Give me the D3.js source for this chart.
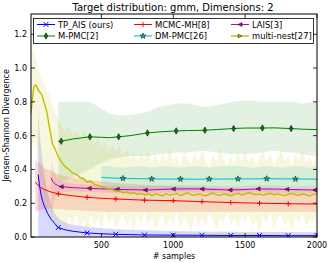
<!DOCTYPE html>
<html>
<head>
<meta charset="utf-8">
<script src="https://cdn.jsdelivr.net/npm/d3@7"></script>
<style>
  body { margin: 0; background: #fff; }
  svg text { font-family: "DejaVu Sans", sans-serif; fill: #000; }
</style>
</head>
<body>
<script>
// axis ticks
var sampleTicks = [500, 1000, 1500, 2000];
var jsdTicks = [0, 0.2, 0.4, 0.6, 0.8, 1.0, 1.2];

// TP_AIS (ours)
var tpSamples = [60, 70, 80, 90, 100, 125, 150, 175, 200, 250, 300, 400, 500, 600, 800, 1000, 1200, 1400, 1600, 1800, 2000];
var tpMean = [0.37, 0.30, 0.25, 0.215, 0.19, 0.14, 0.105, 0.08, 0.056, 0.042, 0.034, 0.024, 0.019, 0.016, 0.012, 0.011, 0.010, 0.009, 0.009, 0.008, 0.008];
var tpHi = [0.75, 0.62, 0.52, 0.45, 0.38, 0.27, 0.19, 0.14, 0.11, 0.085, 0.072, 0.06, 0.052, 0.046, 0.04, 0.036, 0.033, 0.031, 0.03, 0.029, 0.028];
var tpLo = [0, 0, 0, 0, 0, 0, 0, 0, 0, 0, 0, 0, 0, 0, 0, 0, 0, 0, 0, 0, 0];
var tpMarks = [200, 400, 600, 800, 1000, 1200, 1400, 1600, 1800, 2000];

// MCMC-MH[8]
var mhSamples = [40, 60, 80, 100, 150, 200, 300, 400, 500, 600, 800, 1000, 1200, 1400, 1600, 1800, 2000];
var mhMean = [0.325, 0.305, 0.292, 0.282, 0.266, 0.255, 0.244, 0.235, 0.229, 0.225, 0.218, 0.215, 0.209, 0.204, 0.200, 0.197, 0.195];
var mhHi = [0.46, 0.44, 0.43, 0.41, 0.39, 0.37, 0.35, 0.34, 0.33, 0.32, 0.31, 0.30, 0.295, 0.29, 0.285, 0.28, 0.28];
var mhLo = [0.15, 0.155, 0.16, 0.165, 0.17, 0.165, 0.16, 0.155, 0.15, 0.15, 0.15, 0.15, 0.15, 0.15, 0.15, 0.15, 0.15];
var mhMarks = [200, 400, 600, 800, 1000, 1200, 1400, 1600, 1800];

// LAIS[3]
var laisSamples = [150, 160, 175, 200, 220, 300, 415, 500, 610, 700, 805, 900, 1000, 1100, 1200, 1300, 1395, 1500, 1590, 1700, 1790, 1900, 1985, 2000];
var laisMean = [0.35, 0.33, 0.315, 0.303, 0.298, 0.292, 0.288, 0.285, 0.282, 0.28, 0.278, 0.281, 0.284, 0.285, 0.284, 0.281, 0.278, 0.281, 0.285, 0.284, 0.282, 0.28, 0.278, 0.278];
var laisHi = [0.46, 0.42, 0.38, 0.34, 0.33, 0.315, 0.31, 0.307, 0.304, 0.302, 0.30, 0.303, 0.306, 0.307, 0.306, 0.303, 0.30, 0.303, 0.307, 0.306, 0.304, 0.302, 0.30, 0.30];
var laisLo = [0.12, 0.18, 0.23, 0.26, 0.265, 0.269, 0.266, 0.263, 0.26, 0.258, 0.256, 0.259, 0.262, 0.263, 0.262, 0.259, 0.256, 0.259, 0.263, 0.262, 0.26, 0.258, 0.256, 0.256];
var laisMarks = [220, 415, 610, 805, 1000, 1200, 1395, 1590, 1790, 1985];

// M-PMC[2]
var pmcSamples = [200, 220, 300, 420, 500, 560, 620, 700, 820, 900, 1020, 1100, 1220, 1300, 1420, 1500, 1620, 1700, 1820, 1900, 2000];
var pmcMean = [0.565, 0.567, 0.58, 0.593, 0.59, 0.588, 0.593, 0.60, 0.616, 0.622, 0.628, 0.63, 0.632, 0.636, 0.642, 0.645, 0.645, 0.646, 0.642, 0.638, 0.636];
var pmcHi = [0.80, 0.80, 0.80, 0.80, 0.76, 0.73, 0.72, 0.72, 0.74, 0.77, 0.79, 0.79, 0.77, 0.78, 0.80, 0.81, 0.80, 0.80, 0.80, 0.79, 0.80];
var pmcLo = [0.32, 0.33, 0.35, 0.40, 0.44, 0.46, 0.47, 0.48, 0.48, 0.49, 0.50, 0.50, 0.51, 0.50, 0.49, 0.49, 0.50, 0.51, 0.50, 0.49, 0.48];
var pmcMarks = [220, 420, 620, 820, 1020, 1220, 1420, 1620, 1820];

// DM-PMC[26]
var dmSamples = [500, 550, 650, 750, 850, 950, 1050, 1150, 1250, 1350, 1450, 1550, 1650, 1750, 1850, 1950, 2000];
var dmMean = [0.353, 0.35, 0.347, 0.345, 0.344, 0.343, 0.343, 0.342, 0.343, 0.343, 0.344, 0.344, 0.345, 0.344, 0.343, 0.343, 0.342];
var dmHi = [0.42, 0.42, 0.41, 0.42, 0.41, 0.42, 0.41, 0.42, 0.41, 0.42, 0.42, 0.41, 0.42, 0.41, 0.42, 0.41, 0.42];
var dmLo = [0.28, 0.28, 0.27, 0.28, 0.27, 0.28, 0.27, 0.28, 0.27, 0.28, 0.27, 0.28, 0.27, 0.28, 0.27, 0.28, 0.27];
var dmMarks = [650, 850, 1050, 1250, 1450, 1650, 1850];

// multi-nest[27] (noisy)
var nestSamples = [10, 20, 30, 40, 50, 60, 70, 80, 90, 100, 120, 140, 160, 180, 200].concat(d3.range(225, 2001, 25));
var nestMean = [0.73, 0.82, 0.89, 0.90, 0.89, 0.87, 0.86, 0.85, 0.83, 0.80, 0.74, 0.64, 0.55, 0.515, 0.475,
  0.440, 0.415, 0.400, 0.378, 0.372, 0.352, 0.345, 0.326,
  0.330, 0.312, 0.305, 0.298, 0.292, 0.285, 0.280, 0.268,
  0.274, 0.262, 0.266, 0.258, 0.262, 0.252, 0.258, 0.249,
  0.256, 0.245, 0.254, 0.250, 0.243, 0.256, 0.248, 0.252,
  0.258, 0.246, 0.253, 0.262, 0.250, 0.247, 0.256, 0.249,
  0.244, 0.253, 0.260, 0.251, 0.246, 0.255, 0.250, 0.244,
  0.252, 0.258, 0.249, 0.254, 0.262, 0.256, 0.250, 0.255,
  0.247, 0.253, 0.259, 0.250, 0.256, 0.249, 0.245, 0.253,
  0.258, 0.250, 0.247, 0.254, 0.249, 0.243, 0.252, 0.255];
var nestHi = [1.02, 1.12, 1.10, 1.06, 1.03, 0.99, 0.97, 0.94, 0.92, 0.90, 0.87, 0.84, 0.78, 0.73, 0.70,
  0.66, 0.62, 0.66, 0.60, 0.63, 0.58, 0.64, 0.59,
  0.61, 0.55, 0.59, 0.53, 0.57, 0.51, 0.55, 0.50,
  0.54, 0.48, 0.53, 0.47, 0.51, 0.45, 0.50, 0.46,
  0.52, 0.44, 0.49, 0.43, 0.50, 0.45, 0.53, 0.44,
  0.48, 0.42, 0.51, 0.46, 0.43, 0.50, 0.44, 0.52,
  0.45, 0.41, 0.49, 0.44, 0.53, 0.46, 0.42, 0.48,
  0.43, 0.50, 0.45, 0.52, 0.44, 0.48, 0.42, 0.47,
  0.51, 0.44, 0.49, 0.43, 0.46, 0.52, 0.45, 0.48,
  0.42, 0.49, 0.45, 0.51, 0.44, 0.47, 0.43, 0.50];
var nestLo = [0.45, 0.52, 0.58, 0.55, 0.50, 0.42, 0.36, 0.30, 0.25, 0.21, 0.15, 0.11, 0.08, 0.07, 0.05,
  0.09, 0.04, 0.12, 0.06, 0.14, 0.05, 0.10, 0.03,
  0.13, 0.07, 0.11, 0.04, 0.15, 0.08, 0.12, 0.05,
  0.10, 0.14, 0.06, 0.11, 0.03, 0.13, 0.08, 0.15,
  0.07, 0.12, 0.04, 0.10, 0.14, 0.06, 0.11, 0.08,
  0.15, 0.05, 0.12, 0.09, 0.03, 0.13, 0.07, 0.11,
  0.06, 0.14, 0.10, 0.04, 0.12, 0.08, 0.15, 0.07,
  0.11, 0.05, 0.13, 0.09, 0.14, 0.06, 0.10, 0.03,
  0.12, 0.08, 0.15, 0.05, 0.11, 0.13, 0.07, 0.10,
  0.04, 0.12, 0.09, 0.14, 0.06, 0.11, 0.08, 0.13];
var nestMarks = [];

(function() {
    var w = 332,
        h = 263,
        margin = {left: 31, right: 15, top: 14, bottom: 26};

    var svg = d3.select('body')
        .append('svg')
        .attr('width', w)
        .attr('height', h);

    var x = d3.scaleLinear()
        .domain([10, 2000])
        .range([margin.left, w - margin.right]);
    var y = d3.scaleLinear()
        .domain([0, 1.32])
        .range([h - margin.bottom, margin.top]);

    // series table, built from the arrays above
    var series = [
        {name: 'TP_AIS (ours)', color: '#0000ff', marker: 'x', xs: tpSamples, mean: tpMean, lo: tpLo, hi: tpHi, marks: tpMarks, lw: 1, alpha: 0.15},
        {name: 'MCMC-MH[8]', color: '#ff0000', marker: '+', xs: mhSamples, mean: mhMean, lo: mhLo, hi: mhHi, marks: mhMarks, lw: 1, alpha: 0.15},
        {name: 'LAIS[3]', color: '#bf00bf', marker: '<', xs: laisSamples, mean: laisMean, lo: laisLo, hi: laisHi, marks: laisMarks, lw: 1, alpha: 0.1},
        {name: 'M-PMC[2]', color: '#008000', marker: 'd', xs: pmcSamples, mean: pmcMean, lo: pmcLo, hi: pmcHi, marks: pmcMarks, lw: 1, alpha: 0.11},
        {name: 'DM-PMC[26]', color: '#00bfbf', marker: '*', xs: dmSamples, mean: dmMean, lo: dmLo, hi: dmHi, marks: dmMarks, lw: 1, alpha: 0.15},
        {name: 'multi-nest[27]', color: '#bfbf00', marker: '>', xs: nestSamples, mean: nestMean, lo: nestLo, hi: nestHi, marks: nestMarks, lw: 1.4, alpha: 0.13}
    ];
    series.forEach(function(s) {
        s.rows = s.xs.map(function(v, i) {
            return {x: v, m: s.mean[i], lo: s.lo[i], hi: s.hi[i]};
        });
    });

    svg.append('clipPath').attr('id', 'plotclip')
        .append('rect')
        .attr('x', margin.left).attr('y', margin.top)
        .attr('width', w - margin.left - margin.right)
        .attr('height', h - margin.top - margin.bottom);

    var plot = svg.append('g').attr('clip-path', 'url(#plotclip)');

    var band = d3.area()
        .x(function(d) { return x(d.x); })
        .y0(function(d) { return y(d.lo); })
        .y1(function(d) { return y(d.hi); });
    var line = d3.line()
        .x(function(d) { return x(d.x); })
        .y(function(d) { return y(d.m); });

    // shaded bands
    series.forEach(function(s) {
        plot.append('path')
            .attr('d', band(s.rows))
            .attr('fill', s.color)
            .attr('fill-opacity', s.alpha)
            .attr('stroke', 'none');
    });

    // marker drawing
    function markerPath(type, r) {
        var p = d3.path();
        if (type === 'x') {
            p.moveTo(-r, -r); p.lineTo(r, r); p.moveTo(-r, r); p.lineTo(r, -r);
        } else if (type === '+') {
            p.moveTo(-r, 0); p.lineTo(r, 0); p.moveTo(0, -r); p.lineTo(0, r);
        } else if (type === '<') {
            p.moveTo(-r, 0); p.lineTo(r, -r); p.lineTo(r, r); p.closePath();
        } else if (type === '>') {
            p.moveTo(r, 0); p.lineTo(-r, -r); p.lineTo(-r, r); p.closePath();
        } else if (type === 'd') {
            p.moveTo(0, -r * 1.3); p.lineTo(r * 0.75, 0); p.lineTo(0, r * 1.3); p.lineTo(-r * 0.75, 0); p.closePath();
        } else if (type === '*') {
            return d3.symbol().type(d3.symbolStar).size(r * r * 1.8)();
        }
        return p.toString();
    }
    function drawMarker(g, s, cx, cy, r) {
        var open = s.marker === 'x' || s.marker === '+';
        g.append('path')
            .attr('d', markerPath(s.marker, r))
            .attr('transform', 'translate(' + cx + ',' + cy + ')')
            .attr('fill', open ? 'none' : s.color)
            .attr('stroke', open ? s.color : '#000')
            .attr('stroke-width', open ? 1 : 0.5);
    }
    function markerSize(s) {
        if (s.marker === '>') return 1.8;
        if (s.marker === '<') return 2;
        if (s.marker === '*') return 2.4;
        return 2.5;
    }

    // mean lines and markers
    series.forEach(function(s) {
        plot.append('path')
            .attr('d', line(s.rows))
            .attr('fill', 'none')
            .attr('stroke', s.color)
            .attr('stroke-width', s.lw);
        s.rows.forEach(function(d) {
            if (s.marks.indexOf(d.x) >= 0) {
                drawMarker(plot, s, x(d.x), y(d.m), markerSize(s));
            }
        });
    });

    // frame and inward ticks on all four sides
    var x0 = margin.left, x1 = w - margin.right, y0 = h - margin.bottom, y1 = margin.top;
    var axes = svg.append('g').attr('stroke', '#000').attr('stroke-width', 0.8);
    sampleTicks.forEach(function(t) {
        axes.append('line').attr('x1', x(t)).attr('x2', x(t)).attr('y1', y0).attr('y2', y0 - 4);
        axes.append('line').attr('x1', x(t)).attr('x2', x(t)).attr('y1', y1).attr('y2', y1 + 4);
    });
    jsdTicks.forEach(function(t) {
        axes.append('line').attr('x1', x0).attr('x2', x0 + 4).attr('y1', y(t)).attr('y2', y(t));
        axes.append('line').attr('x1', x1).attr('x2', x1 - 4).attr('y1', y(t)).attr('y2', y(t));
    });
    svg.append('rect')
        .attr('x', x0).attr('y', y1)
        .attr('width', x1 - x0).attr('height', y0 - y1)
        .attr('fill', 'none').attr('stroke', '#000').attr('stroke-width', 1);

    sampleTicks.forEach(function(t) {
        svg.append('text')
            .attr('x', x(t)).attr('y', y0 + 11)
            .attr('text-anchor', 'middle')
            .style('font-size', '8px')
            .text(t);
    });
    jsdTicks.forEach(function(t) {
        svg.append('text')
            .attr('x', x0 - 4).attr('y', y(t) + 3)
            .attr('text-anchor', 'end')
            .style('font-size', '8px')
            .text(t.toFixed(1));
    });

    svg.append('text')
        .attr('x', (x0 + x1) / 2).attr('y', h - 4)
        .attr('text-anchor', 'middle')
        .style('font-size', '8px')
        .text('# samples');
    svg.append('text')
        .attr('transform', 'translate(9,' + ((y0 + y1) / 2) + ') rotate(-90)')
        .attr('text-anchor', 'middle')
        .style('font-size', '8px')
        .text('Jensen-Shannon Divergence');
    svg.append('text')
        .attr('x', (x0 + x1) / 2 - 1).attr('y', 11)
        .attr('text-anchor', 'middle')
        .style('font-size', '10px')
        .text('Target distribution: gmm, Dimensions: 2');

    // legend, 3 columns x 2 rows
    var legend = svg.append('g');
    legend.append('rect')
        .attr('x', 33.5).attr('y', 18.5)
        .attr('width', 280).attr('height', 25)
        .attr('fill', '#fff').attr('stroke', '#000').attr('stroke-width', 0.8);
    var colX = [37, 134, 231],
        rowY = [24.5, 36];
    series.forEach(function(s, i) {
        var cx = colX[i % 3], cy = rowY[Math.floor(i / 3)];
        legend.append('line')
            .attr('x1', cx).attr('x2', cx + 18)
            .attr('y1', cy).attr('y2', cy)
            .attr('stroke', s.color).attr('stroke-width', s.lw);
        drawMarker(legend, s, cx + 9, cy, markerSize(s));
        legend.append('text')
            .attr('x', cx + 21).attr('y', cy + 3.2)
            .style('font-size', '8.4px')
            .text(s.name);
    });
})();
</script>
</body>
</html>
